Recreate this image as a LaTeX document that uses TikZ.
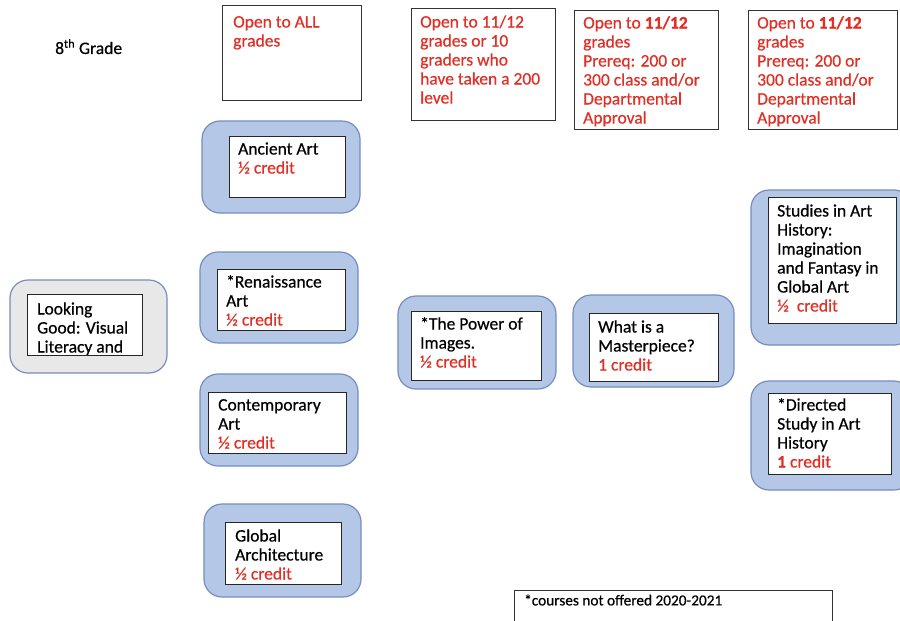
\documentclass[tikz,border=0pt]{standalone}
\usepackage{fontspec}
\setmainfont{Carlito}[FakeBold=0.5]
\definecolor{fillblue}{RGB}{180,199,231}
\definecolor{bordblue}{RGB}{118,141,192}
\definecolor{fillgray}{RGB}{232,232,232}
\definecolor{credred}{RGB}{226,46,36}
\begin{document}
\begin{tikzpicture}[x=1pt,y=-1pt,
  outer/.style={draw=bordblue, fill=fillblue, line width=1.2pt, rounded corners=18pt},
  outergray/.style={draw=bordblue, fill=fillgray, line width=1.2pt, rounded corners=18pt},
  inner/.style={draw=black!85, fill=white, line width=0.9pt},
  hdr/.style={draw=black!80, line width=0.9pt},
  txt/.style={anchor=north west, inner sep=0pt, align=left, font=\fontsize{17.5}{19}\selectfont},
  red/.style={text=credred}]
\useasboundingbox[fill=white] (0,0) rectangle (900,621);

% grade label
\node[txt] (g8) at (55,39) {\strut 8\textsuperscript{th} Grade};

% header boxes
\draw[hdr] (222,5) rectangle (361,100);
\node[txt,red] (h1) at (233,14) {\strut Open to ALL\\grades};
\draw[hdr] (411,8) rectangle (555,120);
\node[txt,red] (h2) at (420,14) {\strut Open to 11/12\\grades or 10\\graders who\\have taken a 200\\level};
\draw[hdr] (574,10) rectangle (718,129);
\node[txt,red] (h3) at (583,15) {\strut Open to \textbf{11/12}\\grades\\Prereq: 200 or\\300 class and/or\\Departmental\\Approval};
\draw[hdr] (748,10) rectangle (897,129);
\node[txt,red] (h4) at (757,15) {\strut Open to \textbf{11/12}\\grades\\Prereq: 200 or\\300 class and/or\\Departmental\\Approval};

% Ancient Art
\draw[outer] (202,121) rectangle (360,213);
\draw[inner] (229,136) rectangle (345,197);
\node[txt] (anc) at (238,141) {\strut Ancient Art\\\textcolor{credred}{½ credit}};

% Renaissance
\draw[outer] (200,252) rectangle (358,343);
\draw[inner] (217,269) rectangle (345,330);
\node[txt] (ren) at (226,274) {\strut *Renaissance\\Art\\\textcolor{credred}{½ credit}};

% Looking Good
\draw[outergray] (10,280) rectangle (167,373);
\draw[inner] (27,294) rectangle (142,355);
\begin{scope}
\clip (27,294) rectangle (142,354);
\node[txt] (look) at (37,301) {\strut Looking\\Good: Visual\\Literacy and};
\end{scope}

% Contemporary
\draw[outer] (200,374) rectangle (358,466);
\draw[inner] (208,392) rectangle (346,453);
\node[txt] (con) at (218,397) {\strut Contemporary\\Art\\\textcolor{credred}{½ credit}};

% Global Architecture
\draw[outer] (204,504) rectangle (361,597);
\draw[inner] (225,522) rectangle (341,584);
\node[txt] (glo) at (235,528) {\strut Global\\Architecture\\\textcolor{credred}{½ credit}};

% Power of Images
\draw[outer] (398,296) rectangle (556,389);
\draw[inner] (411,311) rectangle (541,380);
\node[txt] (pow) at (420,316) {\strut *The Power of\\Images.\\\textcolor{credred}{½ credit}};

% Masterpiece
\draw[outer] (573,295) rectangle (734,387);
\draw[inner] (589,313) rectangle (718,381);
\node[txt] (mas) at (598,319) {\strut What is a\\Masterpiece?\\\textcolor{credred}{1 credit}};

% Studies
\draw[outer] (751,190) rectangle (912,345);
\draw[inner] (768,197) rectangle (896,323);
\node[txt] (stu) at (777,203) {\strut Studies in Art\\History:\\Imagination\\and Fantasy in\\Global Art\\\textcolor{credred}{½\ \ credit}};

% Directed Study
\draw[outer] (751,381) rectangle (912,490);
\draw[inner] (768,393) rectangle (891,474);
\node[txt] (dir) at (777,397) {\strut *Directed\\Study in Art\\History\\\textcolor{credred}{\textbf{1} credit}};

% footnote
\draw[hdr] (514,625) -- (514,590) -- (832,590) -- (832,625);
\node[txt, font=\fontsize{15.3}{16}\selectfont] (foot) at (524,594) {\strut *courses not offered 2020-2021};
\end{tikzpicture}
\end{document}
